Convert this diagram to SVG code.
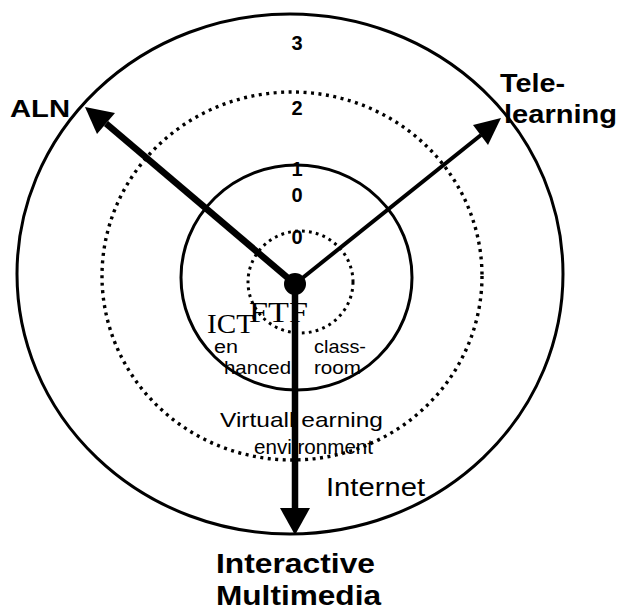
<svg xmlns="http://www.w3.org/2000/svg" width="620" height="610" viewBox="0 0 620 610">
<style>
.ring{fill:none;stroke:#000;stroke-width:3}
.dot{fill:none;stroke:#000;stroke-width:3.4;stroke-dasharray:3 4.5}
.b{font-family:"Liberation Sans",Arial,sans-serif;font-weight:bold;fill:#000}
.r{font-family:"Liberation Sans",Arial,sans-serif;fill:#000}
.s{font-family:"Liberation Serif","Times New Roman",serif;fill:#000}
.num{font-family:"Liberation Sans",Arial,sans-serif;font-weight:bold;font-size:20px;text-anchor:middle;fill:#000}
.ln{stroke:#000;fill:none}
.ah{fill:#000;stroke:none}
</style>
<rect width="620" height="610" fill="#fff"/>
<g id="labels">
<g id="node-aln"><text class="b" x="10" y="117" font-size="24" textLength="60" lengthAdjust="spacingAndGlyphs">ALN</text></g>
<g id="node-telelearning">
<text class="b" x="500" y="92" font-size="25" textLength="65" lengthAdjust="spacingAndGlyphs">Tele-</text>
<text class="b" x="504" y="123" font-size="25" textLength="113" lengthAdjust="spacingAndGlyphs">learning</text>
</g>
<g id="node-multimedia">
<text class="b" x="216" y="573" font-size="27" textLength="159" lengthAdjust="spacingAndGlyphs">Interactive</text>
<text class="b" x="216" y="605" font-size="27" textLength="165" lengthAdjust="spacingAndGlyphs">Multimedia</text>
</g>
<g id="node-internet"><text class="r" x="326" y="496" font-size="26" textLength="99" lengthAdjust="spacingAndGlyphs">Internet</text></g>
<g id="node-vle">
<text class="r" x="220" y="427" font-size="21" textLength="163" lengthAdjust="spacingAndGlyphs">Virtuall earning</text>
<text class="r" x="254" y="454" font-size="21" textLength="119" lengthAdjust="spacingAndGlyphs">envi ronment</text>
</g>
<g id="node-ict">
<text class="s" x="207" y="333" font-size="28" textLength="47" lengthAdjust="spacingAndGlyphs">ICT</text>
<text class="r" x="214" y="353" font-size="18" textLength="24" lengthAdjust="spacingAndGlyphs">en</text>
<text class="r" x="224" y="374" font-size="19" textLength="67" lengthAdjust="spacingAndGlyphs">hanced</text>
</g>
<g id="node-ftf">
<text class="s" x="249" y="322" font-size="29" textLength="59" lengthAdjust="spacingAndGlyphs">FTF</text>
<text class="r" x="314" y="353" font-size="19" textLength="52" lengthAdjust="spacingAndGlyphs">class-</text>
<text class="r" x="314" y="374" font-size="19" textLength="47" lengthAdjust="spacingAndGlyphs">room</text>
</g>
<g id="levels">
<text class="num" x="297" y="50">3</text>
<text class="num" x="297" y="115">2</text>
<text class="num" x="297" y="176">1</text>
<text class="num" x="297" y="202">0</text>
<text class="num" x="297" y="244">0</text>
</g>
</g>
<g id="rings">
<ellipse id="ring-3" class="ring" cx="290" cy="274" rx="273" ry="260"/>
<ellipse id="ring-2" class="dot" cx="292" cy="276" rx="190" ry="184"/>
<ellipse id="ring-1" class="ring" cx="296.5" cy="277.5" rx="115.5" ry="112.5"/>
<ellipse id="ring-0" class="dot" cx="300.5" cy="282" rx="52.5" ry="51" style="stroke-width:3;stroke-dasharray:2.8 4.2"/>
</g>
<g id="connectors">
<line class="ln" x1="295" y1="284" x2="106" y2="123.5" stroke-width="6.5"/>
<polygon class="ah" points="85,107 115,113 97,134"/>
<line class="ln" x1="295" y1="284" x2="481" y2="135" stroke-width="4"/>
<polygon class="ah" points="501,118 473,125 488,145"/>
<line class="ln" x1="295" y1="284" x2="295" y2="510" stroke-width="6.5"/>
<polygon class="ah" points="295,535 280,508 310,508"/>
<circle cx="295" cy="284" r="11" fill="#000"/>
</g>
</svg>
